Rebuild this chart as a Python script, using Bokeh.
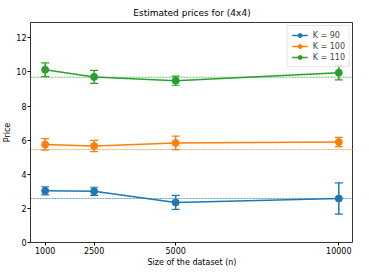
from bokeh.plotting import figure
from bokeh.models import ColumnDataSource, Whisker, TeeHead, Span, FixedTicker, Range1d, Legend, LegendItem
from bokeh.embed import file_html
from bokeh.resources import INLINE

sizes = [1000, 2500, 5000, 10000]
k_labels = ["K = 90", "K = 100", "K = 110"]
colors = ["#1f77b4", "#ff7f0e", "#2ca02c"]
price_90 = [3.03, 3.00, 2.35, 2.58]
err_90 = [0.24, 0.24, 0.41, 0.92]
price_100 = [5.75, 5.66, 5.84, 5.89]
err_100 = [0.34, 0.33, 0.40, 0.27]
price_110 = [10.13, 9.71, 9.49, 9.96]
err_110 = [0.40, 0.38, 0.27, 0.43]
ref_prices = [2.58, 5.45, 9.69]
y_ticks = [0, 2, 4, 6, 8, 10, 12]

FONT = "DejaVu Sans"

p = figure(width=353, height=269, output_backend="svg", toolbar_location=None,
           x_range=Range1d(550, 10450), y_range=Range1d(0, 12.9),
           title="Estimated prices for (4x4)",
           min_border_left=28, min_border_right=0, min_border_top=14, min_border_bottom=0)
p.title.align = "center"
p.title.text_font = FONT
p.title.text_font_size = "9px"
p.title.text_font_style = "normal"
p.title.text_color = "#000000"
p.grid.visible = False
p.outline_line_color = "#000000"
p.outline_line_width = 0.8

for ax in (p.xaxis[0], p.yaxis[0]):
    ax.axis_line_color = None
    ax.minor_tick_line_color = None
    ax.major_tick_in = 0
    ax.major_tick_out = 3
    ax.major_tick_line_color = "#000000"
    ax.major_label_text_font = FONT
    ax.major_label_text_font_size = "8px"
    ax.major_label_text_color = "#000000"
    ax.axis_label_text_font = FONT
    ax.axis_label_text_font_size = "8px"
    ax.axis_label_text_font_style = "normal"
    ax.axis_label_text_color = "#000000"
    ax.major_label_standoff = 1
    ax.axis_label_standoff = 1

p.xaxis.ticker = FixedTicker(ticks=sizes)
p.yaxis.ticker = FixedTicker(ticks=y_ticks)
p.xaxis.axis_label = "Size of the dataset (n)"
p.yaxis.axis_label = "Price"

items = []
for label, color, vals, errs, ref in zip(k_labels, colors,
                                          [price_90, price_100, price_110],
                                          [err_90, err_100, err_110], ref_prices):
    p.add_layout(Span(location=ref, dimension="width", line_color=color,
                      line_dash="2 1", line_width=1, line_alpha=0.7))
    src = ColumnDataSource(dict(x=sizes, y=vals,
                                upper=[v + e for v, e in zip(vals, errs)],
                                lower=[v - e for v, e in zip(vals, errs)]))
    w = Whisker(source=src, base="x", upper="upper", lower="lower",
                line_color=color, line_width=1.5,
                upper_head=TeeHead(size=8, line_color=color, line_width=1.2),
                lower_head=TeeHead(size=8, line_color=color, line_width=1.2))
    p.add_layout(w)
    l = p.line("x", "y", source=src, line_color=color, line_width=1.5)
    c = p.scatter("x", "y", source=src, size=7, fill_color=color, line_color=color)
    items.append(LegendItem(label=label, renderers=[l, c]))

legend = Legend(items=items, location="top_right")
legend.label_text_font = FONT
legend.label_text_font_size = "8px"
legend.border_line_color = "#cccccc"
legend.background_fill_alpha = 0.8
legend.glyph_width = 16
legend.glyph_height = 10
legend.label_height = 10
legend.spacing = 1
legend.padding = 4
legend.margin = 3
legend.label_standoff = 5
p.add_layout(legend)

open("out.html", "w").write(file_html(p, INLINE))
